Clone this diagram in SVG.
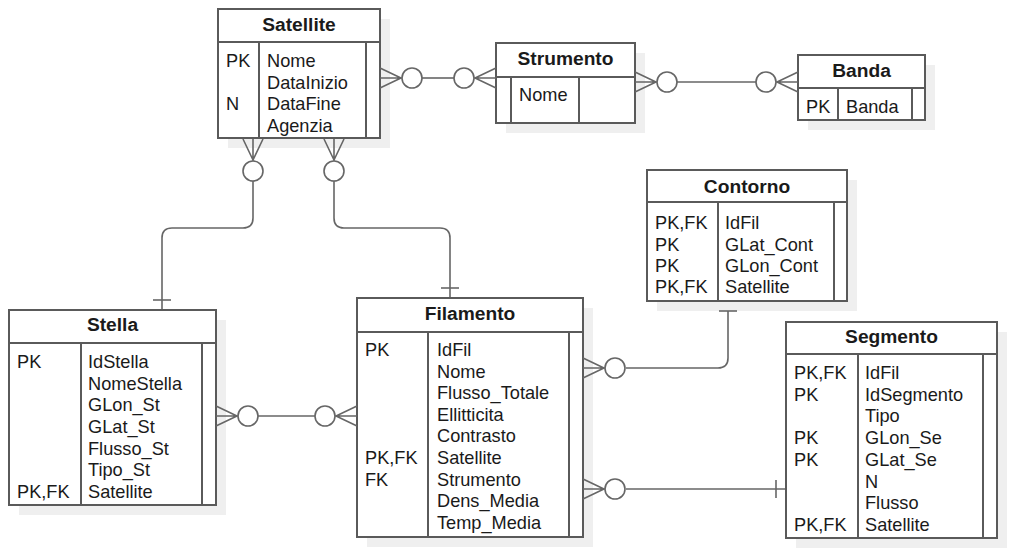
<svg xmlns="http://www.w3.org/2000/svg" width="1015" height="555" viewBox="0 0 1015 555">
<style>
.bg{fill:#ffffff}
.sh{fill:#efefef;stroke:none}
.box{fill:#ffffff;stroke:#5a5a5a;stroke-width:2}
.ln{stroke:#5a5a5a;stroke-width:2;fill:none}
.hd{font-family:"Liberation Sans",Arial,sans-serif;font-size:19.2px;font-weight:bold;fill:#1a1a1a;text-anchor:middle}
.tx{font-family:"Liberation Sans",Arial,sans-serif;font-size:18.2px;fill:#1a1a1a}
.cn{stroke:#666666;stroke-width:1.6;fill:none}
.ci{stroke:#666666;stroke-width:1.6;fill:#ffffff}
</style>
<defs>
<g id="zm">
<path class="cn" d="M0,-10 L21,0 L0,10 M0,0 H22"/>
<circle class="ci" cx="32" cy="0" r="10"/>
</g>
<g id="one">
<path class="cn" d="M10,-9 V9"/>
</g>
</defs>
<rect class="bg" x="0" y="0" width="1015" height="555"/>

<g id="connectors">
<path class="cn" d="M253,181 V218 Q253,228 243,228 H172 Q162,228 162,238 V310"/>
<path class="cn" d="M334,181 V218 Q334,228 344,228 H440 Q450,228 450,238 V298"/>
<path class="cn" d="M626,368 H718 Q728,368 728,358 V301"/>
<path class="cn" d="M626,489 H786"/>
<path class="cn" d="M257,416 H315"/>
<path class="cn" d="M422,78 H454"/>
<path class="cn" d="M676,82 H756"/>
</g>

<g id="Satellite">
<rect class="sh" x="228" y="19" width="162" height="129"/>
<rect class="box" x="218" y="9" width="162" height="129"/>
<path class="ln" d="M218,42 H380 M259,42 V138 M366,42 V138"/>
<text class="hd" x="299" y="31">Satellite</text>
<text class="tx" x="226" y="67">PK</text>
<text class="tx" x="226" y="110">N</text>
<text class="tx" x="267" y="67">Nome</text>
<text class="tx" x="267" y="88.5">DataInizio</text>
<text class="tx" x="267" y="110">DataFine</text>
<text class="tx" x="267" y="131.5">Agenzia</text>
</g>

<g id="Strumento">
<rect class="sh" x="506" y="53" width="139" height="80"/>
<rect class="box" x="496" y="43" width="139" height="80"/>
<path class="ln" d="M496,77 H635 M511,77 V123 M579,77 V123"/>
<text class="hd" x="565.5" y="65">Strumento</text>
<text class="tx" x="519" y="101">Nome</text>
</g>

<g id="Banda">
<rect class="sh" x="808" y="65" width="127" height="65"/>
<rect class="box" x="798" y="55" width="127" height="65"/>
<path class="ln" d="M798,88 H925 M838,88 V120 M912,88 V120"/>
<text class="hd" x="861.5" y="77">Banda</text>
<text class="tx" x="806" y="113">PK</text>
<text class="tx" x="846" y="113">Banda</text>
</g>

<g id="Contorno">
<rect class="sh" x="657" y="180" width="200" height="131"/>
<rect class="box" x="647" y="170" width="200" height="131"/>
<path class="ln" d="M647,202 H847 M718,202 V301 M834,202 V301"/>
<text class="hd" x="747" y="193">Contorno</text>
<text class="tx" x="655" y="229">PK,FK</text>
<text class="tx" x="655" y="251">PK</text>
<text class="tx" x="655" y="272">PK</text>
<text class="tx" x="655" y="293">PK,FK</text>
<text class="tx" x="725" y="229">IdFil</text>
<text class="tx" x="725" y="251">GLat_Cont</text>
<text class="tx" x="725" y="272">GLon_Cont</text>
<text class="tx" x="725" y="293">Satellite</text>
</g>

<g id="Stella">
<rect class="sh" x="19" y="320" width="207" height="195"/>
<rect class="box" x="9" y="310" width="207" height="195"/>
<path class="ln" d="M9,343 H216 M81,343 V505 M202,343 V505"/>
<text class="hd" x="112.5" y="331">Stella</text>
<text class="tx" x="17" y="368">PK</text>
<text class="tx" x="17" y="498">PK,FK</text>
<text class="tx" x="88" y="368">IdStella</text>
<text class="tx" x="88" y="389.7">NomeStella</text>
<text class="tx" x="88" y="411.3">GLon_St</text>
<text class="tx" x="88" y="433">GLat_St</text>
<text class="tx" x="88" y="454.7">Flusso_St</text>
<text class="tx" x="88" y="476.3">Tipo_St</text>
<text class="tx" x="88" y="498">Satellite</text>
</g>

<g id="Filamento">
<rect class="sh" x="367" y="308" width="226" height="239"/>
<rect class="box" x="357" y="298" width="226" height="239"/>
<path class="ln" d="M357,332 H583 M428,332 V537 M569,332 V537"/>
<text class="hd" x="470" y="320">Filamento</text>
<text class="tx" x="365" y="356">PK</text>
<text class="tx" x="365" y="464">PK,FK</text>
<text class="tx" x="365" y="485.6">FK</text>
<text class="tx" x="437" y="356">IdFil</text>
<text class="tx" x="437" y="377.6">Nome</text>
<text class="tx" x="437" y="399.2">Flusso_Totale</text>
<text class="tx" x="437" y="420.8">Ellitticita</text>
<text class="tx" x="437" y="442.4">Contrasto</text>
<text class="tx" x="437" y="464">Satellite</text>
<text class="tx" x="437" y="485.6">Strumento</text>
<text class="tx" x="437" y="507.2">Dens_Media</text>
<text class="tx" x="437" y="528.8">Temp_Media</text>
</g>

<g id="Segmento">
<rect class="sh" x="796" y="332" width="211" height="216"/>
<rect class="box" x="786" y="322" width="211" height="216"/>
<path class="ln" d="M786,354 H997 M858,354 V538 M983,354 V538"/>
<text class="hd" x="891.5" y="343">Segmento</text>
<text class="tx" x="794" y="379">PK,FK</text>
<text class="tx" x="794" y="400.7">PK</text>
<text class="tx" x="794" y="444.1">PK</text>
<text class="tx" x="794" y="465.8">PK</text>
<text class="tx" x="794" y="531">PK,FK</text>
<text class="tx" x="865" y="379">IdFil</text>
<text class="tx" x="865" y="400.7">IdSegmento</text>
<text class="tx" x="865" y="422.4">Tipo</text>
<text class="tx" x="865" y="444.1">GLon_Se</text>
<text class="tx" x="865" y="465.8">GLat_Se</text>
<text class="tx" x="865" y="487.5">N</text>
<text class="tx" x="865" y="509.2">Flusso</text>
<text class="tx" x="865" y="531">Satellite</text>
</g>

<g id="connector-ends">
<use href="#zm" transform="translate(380,78)"/>
<use href="#zm" transform="translate(496,78) rotate(180)"/>
<use href="#zm" transform="translate(635,82)"/>
<use href="#zm" transform="translate(798,82) rotate(180)"/>
<use href="#zm" transform="translate(253,139) rotate(90)"/>
<use href="#zm" transform="translate(334,139) rotate(90)"/>
<use href="#zm" transform="translate(216,416)"/>
<use href="#zm" transform="translate(357,416) rotate(180)"/>
<use href="#zm" transform="translate(583,368)"/>
<use href="#zm" transform="translate(583,489)"/>
<use href="#one" transform="translate(162,310) rotate(-90)"/>
<use href="#one" transform="translate(450,298) rotate(-90)"/>
<use href="#one" transform="translate(728,301) rotate(90)"/>
<use href="#one" transform="translate(786,489) rotate(180)"/>
</g>
</svg>
